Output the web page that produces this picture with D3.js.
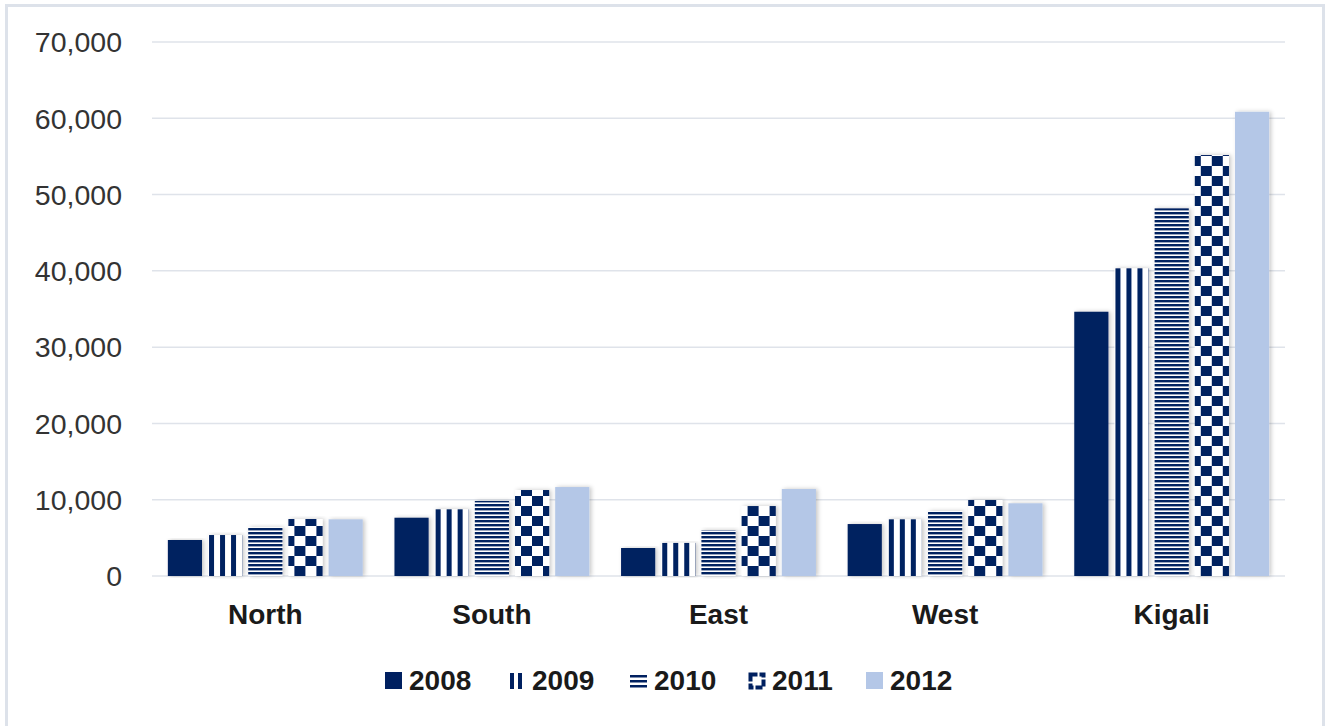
<!DOCTYPE html>
<html><head><meta charset="utf-8">
<script src="https://cdn.jsdelivr.net/npm/d3@7/dist/d3.min.js"></script>
<style>html,body{margin:0;padding:0;background:#fff;}svg{display:block;}</style>
</head><body>
<svg id="chart" width="1328" height="726"></svg>
<script>
const categories = ["North", "South", "East", "West", "Kigali"];
const years = ["2008", "2009", "2010", "2011", "2012"];
const v2008 = [4720, 7640, 3670, 6810, 34640];
const v2009 = [5370, 8740, 4330, 7430, 40330];
const v2010 = [6380, 9830, 6030, 8520, 48190];
const v2011 = [7470, 11270, 9170, 9960, 55180];
const v2012 = [7430, 11660, 11400, 9530, 60850];
const seriesValues = [v2008, v2009, v2010, v2011, v2012];
const yTicks = [0, 10000, 20000, 30000, 40000, 50000, 60000, 70000];

const DARK = "#002060", LIGHT = "#b4c7e7";
const svg = d3.select("#chart");
const defs = svg.append("defs");

// border
svg.append("rect").attr("x", 6.5).attr("y", 5.5).attr("width", 1317).attr("height", 730)
  .attr("fill", "none").attr("stroke", "#dde2ea").attr("stroke-width", 3);

const x0 = d3.scaleBand().domain(categories).range([152, 1285]).paddingInner(0.14).paddingOuter(0.07);
const x1 = d3.scaleBand().domain(years).range([0, x0.bandwidth()]).paddingInner(0.15).paddingOuter(0);
const y = d3.scaleLinear().domain([0, 70000]).range([576, 42]);

// gridlines
svg.append("g").selectAll("line").data(yTicks).join("line")
  .attr("x1", 152).attr("x2", 1285)
  .attr("y1", d => y(d)).attr("y2", d => y(d))
  .attr("stroke", "#dfe3ea").attr("stroke-width", 1.5);

// y labels
svg.append("g").selectAll("text").data(yTicks).join("text")
  .attr("x", 122).attr("y", d => y(d)).attr("dy", "0.36em")
  .attr("text-anchor", "end")
  .attr("font-family", "Liberation Sans, Arial, sans-serif").attr("font-size", 28.5)
  .attr("fill", "#333")
  .text(d => d3.format(",")(d));

// shadow filter
const f = defs.append("filter").attr("id", "sh").attr("x", "-20%").attr("y", "-5%").attr("width", "140%").attr("height", "110%");
f.append("feDropShadow").attr("dx", 2).attr("dy", 0).attr("stdDeviation", 2)
  .attr("flood-color", "#000").attr("flood-opacity", 0.22);

function makePattern(id, si, ox, oy) {
  if (si === 1) {
    const p = defs.append("pattern").attr("id", id).attr("patternUnits", "userSpaceOnUse")
      .attr("x", ox + 1).attr("y", 0).attr("width", 11).attr("height", 10);
    p.append("rect").attr("width", 11).attr("height", 10).attr("fill", "#fff");
    p.append("rect").attr("width", 5).attr("height", 10).attr("fill", DARK);
  } else if (si === 2) {
    const p = defs.append("pattern").attr("id", id).attr("patternUnits", "userSpaceOnUse")
      .attr("x", 0).attr("y", oy).attr("width", 10).attr("height", 4);
    p.append("rect").attr("width", 10).attr("height", 4).attr("fill", "#fff");
    p.append("rect").attr("width", 10).attr("height", 2.4).attr("fill", DARK);
  } else if (si === 3) {
    const p = defs.append("pattern").attr("id", id).attr("patternUnits", "userSpaceOnUse")
      .attr("x", ox - 5).attr("y", oy).attr("width", 22).attr("height", 20);
    p.append("rect").attr("width", 22).attr("height", 20).attr("fill", "#fff");
    p.append("rect").attr("x", 0).attr("y", 0).attr("width", 11).attr("height", 10).attr("fill", DARK);
    p.append("rect").attr("x", 11).attr("y", 10).attr("width", 11).attr("height", 10).attr("fill", DARK);
  }
}
function fillFor(si, id) {
  if (si === 0) return DARK;
  if (si === 4) return LIGHT;
  return `url(#${id})`;
}

// bars
const barData = [];
categories.forEach((c, ci) => {
  years.forEach((yr, si) => {
    barData.push({ c, yr, si, v: seriesValues[si][ci], id: `p${ci}_${si}` });
  });
});
barData.forEach(d => makePattern(d.id, d.si, x0(d.c) + x1(d.yr), y(0)));

svg.append("g").selectAll("rect").data(barData).join("rect")
  .attr("x", d => x0(d.c) + x1(d.yr))
  .attr("y", d => y(d.v))
  .attr("width", x1.bandwidth())
  .attr("height", d => y(0) - y(d.v))
  .attr("fill", d => fillFor(d.si, d.id))
  .attr("filter", "url(#sh)");

// category labels
svg.append("g").selectAll("text").data(categories).join("text")
  .attr("x", d => x0(d) + x0.bandwidth() / 2).attr("y", 624)
  .attr("text-anchor", "middle")
  .attr("font-family", "Liberation Sans, Arial, sans-serif").attr("font-size", 28)
  .attr("font-weight", "bold").attr("fill", "#1a1a1a")
  .text(d => d);

// legend
const legendX = [385, 508, 630, 748, 866];
const leg = svg.append("g");
years.forEach((yr, si) => {
  const g = leg.append("g").attr("transform", `translate(${legendX[si]},672)`);
  if (si === 0) {
    g.append("rect").attr("width", 17).attr("height", 17).attr("fill", DARK);
  } else if (si === 1) {
    g.append("rect").attr("x", 2).attr("y", 1).attr("width", 4).attr("height", 16).attr("fill", DARK);
    g.append("rect").attr("x", 10).attr("y", 1).attr("width", 4).attr("height", 16).attr("fill", DARK);
  } else if (si === 2) {
    [3, 8, 13].forEach(yy => g.append("rect").attr("x", 0).attr("y", yy).attr("width", 17).attr("height", 2.5).attr("fill", DARK));
  } else if (si === 3) {
    g.append("rect").attr("x", 2.5).attr("y", 2.5).attr("width", 13).attr("height", 13)
      .attr("fill", "#fff").attr("stroke", DARK).attr("stroke-width", 4).attr("stroke-dasharray", "7 2");
  } else {
    g.append("rect").attr("width", 17).attr("height", 17).attr("fill", LIGHT);
  }
  g.append("text").attr("x", 24).attr("y", 18)
    .attr("font-family", "Liberation Sans, Arial, sans-serif").attr("font-size", 28)
    .attr("font-weight", "bold").attr("fill", "#1a1a1a").text(yr);
});
</script>
</body></html>
